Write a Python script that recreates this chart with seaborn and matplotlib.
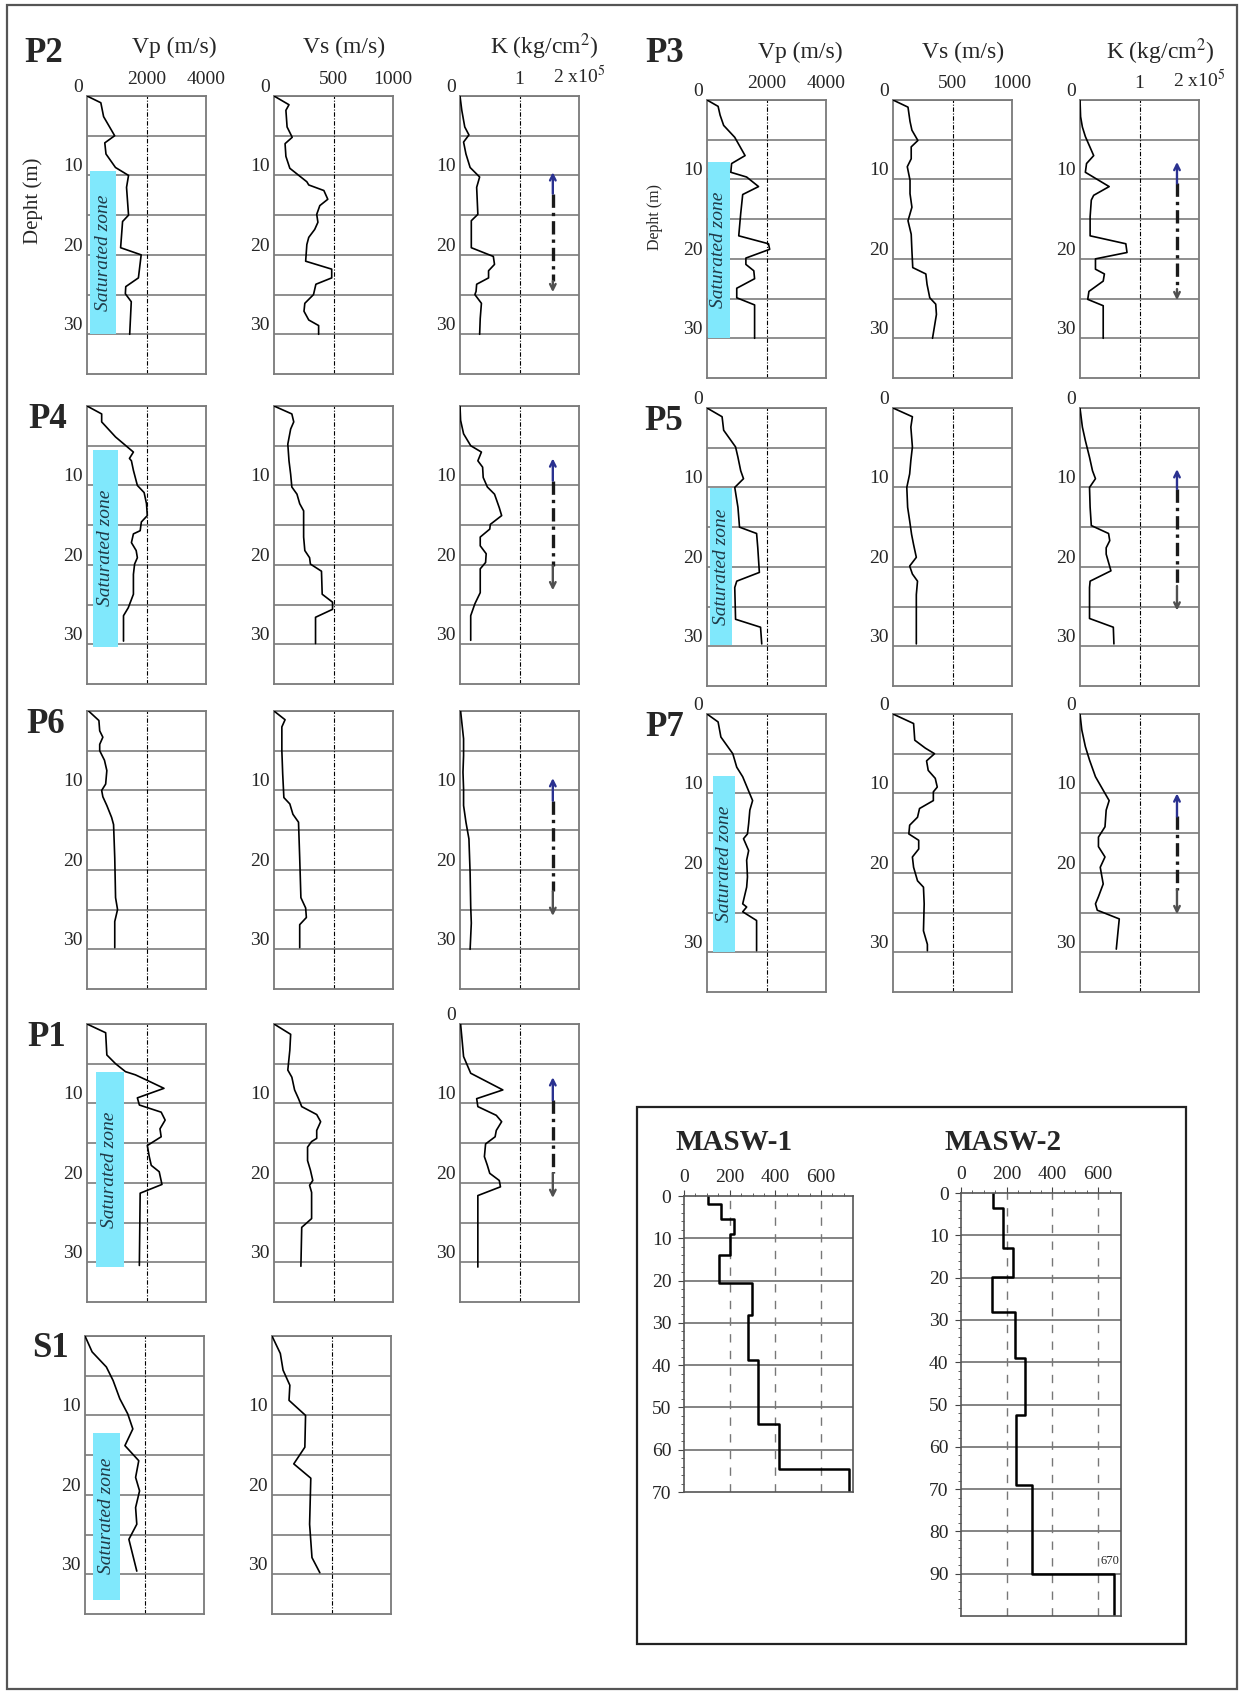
import numpy as np
import seaborn as sns
import matplotlib.pyplot as plt
from matplotlib.patches import Rectangle

W, H = 1239, 1692

# ---------------- profile data (value, depth in m) ----------------
p2_vp = [0, 465, 558, 930, 598, 638, 957, 1396, 1329, 1396, 1196, 1130, 1821, 1728, 1303, 1289, 1488, 1435]
p2_vp_d = [0, 0.85, 2.6, 5.0, 5.9, 7.3, 9.0, 10.0, 11.5, 15.0, 15.8, 19.1, 20.0, 22.9, 24.0, 24.9, 25.9, 30]
p2_vs = [0, 126, 100, 110, 153, 93, 100, 133, 276, 292, 419, 452, 385, 359, 369, 342, 292, 276, 266,
         485, 485, 352, 332, 259, 252, 292, 375, 375]
p2_vs_d = [0, 1.1, 1.8, 3.9, 5.2, 6.0, 7.6, 9.1, 10.8, 11.2, 11.9, 13.0, 13.8, 14.9, 15.9, 16.8, 17.8, 18.7, 20.8,
           21.8, 22.9, 23.7, 25.0, 26.1, 27.1, 28.2, 28.9, 30]
p2_k = [0, 0.03, 0.08, 0.15, 0.06, 0.10, 0.17, 0.33, 0.28, 0.30, 0.19, 0.19, 0.56, 0.58, 0.48, 0.48, 0.28,
        0.27, 0.25, 0.36, 0.34, 0.33]
p2_k_d = [0, 1.8, 3.9, 4.9, 5.8, 7.3, 9.0, 10.2, 11.5, 14.9, 15.7, 19.1, 20.2, 21.2, 22.0, 22.9, 23.7,
          24.6, 25.0, 26.1, 28.0, 30]

p3_vp = [0, 373, 440, 560, 933, 1280, 827, 800, 1333, 1733, 1200, 1133, 1067, 2067, 2107, 1307, 1307,
         1573, 1600, 1000, 1000, 1600, 1600]
p3_vp_d = [0, 0.8, 1.9, 3.2, 4.7, 7.0, 8.0, 9.1, 9.7, 10.9, 11.9, 14.3, 17.1, 18.1, 18.8, 19.9, 20.7,
           21.5, 22.5, 23.7, 24.9, 25.8, 30]
p3_vs = [0, 126, 143, 159, 209, 153, 153, 120, 143, 143, 159, 126, 153, 159, 166, 276, 286, 309, 359, 365, 332]
p3_vs_d = [0, 0.9, 2.7, 3.8, 5.1, 5.9, 7.4, 8.4, 10.1, 11.8, 13.5, 15.2, 16.9, 19.0, 21.1, 21.9, 23.2,
           24.9, 25.7, 27.0, 30]
p3_k = [0, 0.01, 0.04, 0.09, 0.23, 0.11, 0.09, 0.49, 0.23, 0.19, 0.17, 0.17, 0.77, 0.79, 0.26, 0.26,
        0.41, 0.39, 0.15, 0.13, 0.39, 0.39]
p3_k_d = [0, 2.1, 3.4, 4.6, 7.0, 8.0, 9.1, 10.9, 12.0, 12.6, 14.7, 17.1, 18.1, 19.2, 20.0, 21.3,
          21.9, 22.8, 24.1, 25.1, 25.9, 30]

p4_vp = [0, 493, 493, 960, 1560, 1427, 1493, 1560, 1693, 1920, 2000, 2027, 1827, 1787, 1560, 1493,
         1653, 1693, 1600, 1560, 1560, 1387, 1227, 1227]
p4_vp_d = [0, 1.0, 2.0, 3.9, 5.8, 6.6, 6.9, 8.1, 10.0, 10.9, 12.3, 13.8, 14.6, 15.7, 16.1, 17.2,
           18.2, 19.1, 19.9, 21.2, 23.7, 25.4, 26.4, 29.6]
p4_vs = [0, 150, 166, 140, 116, 126, 140, 150, 193, 216, 249, 249, 259, 299, 306, 399, 405, 492, 492, 349, 349]
p4_vs_d = [0, 1.0, 2.0, 2.9, 4.8, 6.9, 8.6, 10.2, 11.1, 12.3, 13.2, 16.5, 18.2, 19.1, 19.9, 20.8,
           23.7, 24.7, 25.6, 26.6, 29.9]
p4_k = [0, 0.01, 0.06, 0.18, 0.36, 0.30, 0.38, 0.39, 0.46, 0.58, 0.66, 0.70, 0.51, 0.50, 0.34, 0.34,
        0.44, 0.43, 0.34, 0.34, 0.25, 0.18, 0.18]
p4_k_d = [0, 1.8, 3.5, 5.0, 5.8, 6.9, 7.7, 9.0, 10.2, 11.1, 12.8, 13.8, 14.9, 15.5, 16.5, 17.6,
          18.6, 19.7, 20.5, 23.5, 24.9, 26.4, 29.5]

p5_vp = [0, 507, 560, 960, 1040, 1133, 1227, 933, 1040, 1093, 1667, 1707, 1760, 1000, 933, 960, 1800, 1840]
p5_vp_d = [0, 1.1, 2.8, 4.9, 6.2, 7.9, 8.9, 10.0, 12.5, 15.0, 15.8, 17.6, 20.7, 21.8, 22.6, 26.6, 27.6, 29.7]
p5_vs = [0, 163, 150, 163, 150, 140, 116, 123, 140, 156, 173, 196, 140, 163, 206, 196, 196]
p5_vs_d = [0, 1.1, 2.4, 4.9, 6.6, 8.3, 10.0, 12.5, 14.2, 15.9, 17.2, 18.8, 19.9, 20.9, 21.8, 23.5, 29.7]
p5_k = [0, 0.04, 0.09, 0.16, 0.21, 0.26, 0.16, 0.17, 0.19, 0.48, 0.50, 0.44, 0.44, 0.52, 0.17, 0.16,
        0.16, 0.56, 0.57]
p5_k_d = [0, 2.4, 4.1, 6.2, 7.9, 8.9, 10.0, 12.5, 14.8, 15.8, 16.7, 17.6, 18.4, 20.5, 21.8, 22.6,
          26.5, 27.6, 29.7]

p6_vp = [53, 400, 427, 533, 427, 427, 587, 667, 627, 493, 533, 667, 827, 893, 933, 960, 1027, 933, 933]
p6_vp_d = [0, 1.2, 2.5, 3.3, 4.2, 5.0, 6.2, 7.5, 9.2, 10.0, 10.8, 11.9, 13.4, 14.3, 18.5, 23.5, 25.0, 26.5, 29.8]
p6_vs = [0, 93, 66, 66, 73, 83, 133, 159, 206, 216, 226, 266, 272, 216, 216]
p6_vs_d = [0, 1.1, 2.0, 5.0, 7.9, 10.9, 11.7, 13.0, 14.0, 18.5, 23.5, 24.8, 26.0, 26.9, 29.8]
p6_k = [0.01, 0.03, 0.06, 0.06, 0.05, 0.06, 0.06, 0.10, 0.15, 0.17, 0.18, 0.19, 0.17]
p6_k_d = [0, 1.4, 3.5, 5.6, 7.7, 9.8, 11.9, 14.0, 16.1, 20.4, 24.6, 26.7, 30.0]

p7_vp = [0, 373, 467, 867, 1000, 1200, 1533, 1440, 1400, 1360, 1227, 1400, 1333, 1360, 1333, 1200,
         1333, 1200, 1667, 1667]
p7_vp_d = [0, 1.0, 2.9, 5.0, 6.7, 7.9, 10.9, 12.1, 13.8, 15.1, 15.7, 17.2, 18.4, 20.5, 21.8, 23.9,
           24.3, 24.9, 26.0, 29.8]
p7_vs = [0, 173, 183, 272, 349, 282, 296, 355, 372, 339, 339, 223, 206, 140, 133, 216, 216, 163, 173,
         206, 256, 262, 256, 289, 289]
p7_vs_d = [0, 1.2, 3.3, 4.3, 5.0, 5.9, 7.1, 8.1, 9.2, 9.8, 10.9, 11.9, 13.0, 14.0, 15.1, 15.9, 17.0,
           18.0, 19.3, 21.0, 21.8, 23.9, 27.3, 29.0, 29.8]
p7_k = [0, 0.03, 0.09, 0.16, 0.26, 0.39, 0.49, 0.44, 0.42, 0.31, 0.31, 0.42, 0.34, 0.39, 0.31, 0.26,
        0.29, 0.66, 0.64, 0.61]
p7_k_d = [0, 2.0, 4.1, 5.8, 7.9, 9.6, 10.9, 12.1, 14.2, 15.5, 16.7, 18.0, 19.3, 21.4, 23.0, 23.9,
          24.7, 25.8, 27.3, 29.6]

p1_vp = [0, 627, 667, 960, 1293, 1627, 2027, 2587, 1693, 1760, 2493, 2627, 2453, 2493, 2027, 2093,
         2160, 2427, 2520, 1787, 1760]
p1_vp_d = [0, 1.1, 3.9, 5.0, 6.0, 6.4, 7.1, 8.1, 9.3, 10.2, 11.1, 12.1, 13.2, 14.2, 15.3, 16.7,
           17.8, 18.6, 20.2, 21.3, 30.4]
p1_vs = [0, 140, 133, 116, 150, 173, 206, 233, 359, 392, 359, 359, 316, 282, 282, 306, 326, 299, 316,
         316, 233, 226]
p1_vs_d = [0, 1.3, 3.3, 5.8, 6.7, 8.3, 9.4, 10.4, 11.4, 12.3, 13.4, 14.4, 14.8, 15.5, 17.2, 18.4,
           19.7, 20.3, 21.2, 24.5, 25.6, 30.5]
p1_k = [0.01, 0.03, 0.06, 0.18, 0.72, 0.28, 0.30, 0.61, 0.70, 0.61, 0.59, 0.43, 0.41, 0.46, 0.50,
        0.66, 0.68, 0.30, 0.30]
p1_k_d = [0, 1.6, 4.1, 6.2, 8.3, 9.4, 10.4, 11.5, 12.3, 13.4, 14.2, 15.1, 16.7, 17.8, 18.8, 19.7,
          20.5, 21.6, 30.6]

s1_vp = [0, 239, 718, 944, 1170, 1436, 1608, 1342, 1807, 1701, 1834, 1701, 1741, 1475, 1741]
s1_vp_d = [0, 2.0, 3.9, 5.6, 7.9, 9.8, 11.7, 13.8, 15.7, 17.8, 19.5, 21.6, 23.7, 25.6, 29.6]
s1_vs = [0, 70, 93, 150, 143, 282, 276, 183, 326, 316, 336, 402]
s1_vs_d = [0, 2.2, 4.3, 6.2, 8.1, 10.0, 14.0, 16.1, 17.9, 23.7, 27.9, 29.8]

# saturated zone: Vp from, Vp to, depth from, depth to
p2_sat = [106, 970, 9.4, 30]
p3_sat = [27, 760, 7.8, 30]
p4_sat = [187, 1053, 5.5, 30.3]
p5_sat = [107, 840, 10.1, 29.9]
p7_sat = [213, 933, 7.8, 30]
p1_sat = [293, 1227, 6.1, 30.6]
s1_sat = [279, 1169, 12.2, 33.2]

# K-panel arrow: x, top, end of blue part, start of grey part, bottom
p2_arrow = [1.56, 9.6, 12.3, 23.3, 24.7]
p3_arrow = [1.63, 7.8, 10.5, 23.8, 25.2]
p4_arrow = [1.56, 6.6, 9.4, 20.1, 23.2]
p5_arrow = [1.63, 7.7, 10.2, 22.4, 25.5]
p6_arrow = [1.56, 8.45, 11.3, 22.7, 25.8]
p7_arrow = [1.63, 10.0, 12.9, 22.1, 25.2]
p1_arrow = [1.56, 6.7, 9.6, 18.8, 21.9]

# MASW step profiles (layer tops, Vs)
masw1_tops = [0, 2.0, 5.5, 9.1, 13.9, 20.5, 28.2, 38.9, 53.9, 64.5]
masw1_vs = [105, 162, 218, 200, 154, 299, 281, 325, 418, 721]
masw1_bottom = 70
masw2_tops = [0, 3.5, 13.0, 19.8, 28.2, 38.9, 52.6, 69.0, 90.0]
masw2_vs = [140, 185, 228, 136, 237, 278, 241, 311, 670]
masw2_bottom = 100

sns.set_theme(style='white')
plt.rcParams['font.family'] = ['Liberation Serif', 'DejaVu Serif']
plt.rcParams['mathtext.fontset'] = 'stix'

fig = plt.figure(figsize=(W / 100, H / 100), dpi=100)
fig.patch.set_facecolor('white')


def add_ax(x0, top, w, h):
    return fig.add_axes([x0 / W, 1 - (top + h) / H, w / W, h / H])


def ftext(x, y, s, **kw):
    fig.text(x / W, 1 - y / H, s, ha='center', va='center', **kw)


def panel(ax, xmax, vals, deps, zero, header_labels=None):
    mid = xmax / 2
    ax.set_xlim(0, xmax)
    ax.set_ylim(35, 0)
    ax.set_axisbelow(True)
    ax.set_yticks([0, 10, 20, 30], ['0' if zero else '', '10', '20', '30'])
    ax.set_yticks([5, 15, 25], minor=True)
    ax.grid(True, which='both', axis='y', color='#8e8e8e', lw=1.4)
    for lbl in ax.get_yticklabels():
        lbl.set_va('bottom')
    ax.tick_params(which='both', length=0, labelsize=14, pad=3)
    if header_labels:
        ax.xaxis.tick_top()
        ax.set_xticks([mid, xmax], header_labels)
        ax.tick_params(axis='x', pad=6)
    else:
        ax.set_xticks([])
    for sp in ax.spines.values():
        sp.set_color('#7a7a7a')
        sp.set_linewidth(1.3)
    ax.axvline(mid, color='black', lw=0.8, ls=(0, (4, 1.5, 1, 1.5)), zorder=1)
    sns.lineplot(x=vals, y=deps, sort=False, estimator=None, color='black', lw=1.2, ax=ax, zorder=3)
    ax.set_xlabel('')
    ax.set_ylabel('')


def sat_zone(ax, sat):
    x0, x1, d0, d1 = sat
    ax.add_patch(Rectangle((x0, d0), x1 - x0, d1 - d0, color='#80e8fc', zorder=1.5, lw=0))
    ax.text((x0 + x1) / 2, (d0 + d1) / 2, 'Saturated zone', rotation=90, style='italic',
            fontsize=14, color='#1f3a48', ha='center', va='center', zorder=4)


def k_arrow(ax, arr):
    x, top, blue_end, gray_start, bottom = arr
    ax.annotate('', xy=(x, top), xytext=(x, blue_end),
                arrowprops=dict(arrowstyle='->', color='#2a3190', lw=1.7, shrinkA=0, shrinkB=0,
                                mutation_scale=10))
    ax.plot([x, x], [blue_end, gray_start], color='#1a1a1a', lw=2.4, ls=(0, (4, 1.5, 1, 1.5)))
    ax.annotate('', xy=(x, bottom), xytext=(x, gray_start),
                arrowprops=dict(arrowstyle='->', color='#505050', lw=1.7, shrinkA=0, shrinkB=0,
                                mutation_scale=10))


left_cols = [87, 274, 460]
right_cols = [707, 893, 1080]
PW, PH = 119, 278

profiles = [
    dict(name='P2', lab=(44, 53), top=96, cols=left_cols, vp=(p2_vp, p2_vp_d), vs=(p2_vs, p2_vs_d),
         k=(p2_k, p2_k_d), sat=p2_sat, arrow=p2_arrow, zero=(1, 1, 1), header=True),
    dict(name='P3', lab=(665, 53), top=100, cols=right_cols, vp=(p3_vp, p3_vp_d), vs=(p3_vs, p3_vs_d),
         k=(p3_k, p3_k_d), sat=p3_sat, arrow=p3_arrow, zero=(1, 1, 1), header=True),
    dict(name='P4', lab=(48, 419), top=406, cols=left_cols, vp=(p4_vp, p4_vp_d), vs=(p4_vs, p4_vs_d),
         k=(p4_k, p4_k_d), sat=p4_sat, arrow=p4_arrow, zero=(0, 0, 0), header=False),
    dict(name='P5', lab=(664, 421), top=408, cols=right_cols, vp=(p5_vp, p5_vp_d), vs=(p5_vs, p5_vs_d),
         k=(p5_k, p5_k_d), sat=p5_sat, arrow=p5_arrow, zero=(1, 1, 1), header=False),
    dict(name='P6', lab=(46, 724), top=711, cols=left_cols, vp=(p6_vp, p6_vp_d), vs=(p6_vs, p6_vs_d),
         k=(p6_k, p6_k_d), sat=None, arrow=p6_arrow, zero=(0, 0, 0), header=False),
    dict(name='P7', lab=(665, 727), top=714, cols=right_cols, vp=(p7_vp, p7_vp_d), vs=(p7_vs, p7_vs_d),
         k=(p7_k, p7_k_d), sat=p7_sat, arrow=p7_arrow, zero=(1, 1, 1), header=False),
    dict(name='P1', lab=(47, 1037), top=1024, cols=left_cols, vp=(p1_vp, p1_vp_d), vs=(p1_vs, p1_vs_d),
         k=(p1_k, p1_k_d), sat=p1_sat, arrow=p1_arrow, zero=(0, 0, 1), header=False),
]

for p in profiles:
    c = p['cols']
    hdr = p['header']
    ax_vp = add_ax(c[0], p['top'], PW, PH)
    panel(ax_vp, 4000, *p['vp'], p['zero'][0], ['2000', '4000'] if hdr else None)
    if p['sat']:
        sat_zone(ax_vp, p['sat'])
    ax_vs = add_ax(c[1], p['top'], PW, PH)
    panel(ax_vs, 1000, *p['vs'], p['zero'][1], ['500', '1000'] if hdr else None)
    ax_k = add_ax(c[2], p['top'], PW, PH)
    panel(ax_k, 2, *p['k'], p['zero'][2], ['1', r'2 x10$^{5}$'] if hdr else None)
    k_arrow(ax_k, p['arrow'])
    ftext(*p['lab'], p['name'], fontsize=25, fontweight='bold')

# S1 (no K panel)
ax = add_ax(85, 1336, PW, PH)
panel(ax, 4000, s1_vp, s1_vp_d, False)
sat_zone(ax, s1_sat)
ax = add_ax(272, 1336, PW, PH)
panel(ax, 1000, s1_vs, s1_vs_d, False)
ftext(50, 1348, 'S1', fontsize=25, fontweight='bold')

# column headers
for xs, y in [((174, 344, 544), 47), ((800, 963, 1160), 52)]:
    ftext(xs[0], y, 'Vp (m/s)', fontsize=17)
    ftext(xs[1], y, 'Vs (m/s)', fontsize=17)
    ftext(xs[2], y, r'K (kg/cm$^{2}$)', fontsize=17)
ftext(33, 201, 'Depht (m)', fontsize=15, rotation=90)
ftext(655, 217, 'Depht (m)', fontsize=11.5, rotation=90)


# ---------------- MASW inset ----------------
def masw_panel(x0, top, w, h, tops, vs, bottom, xmax, ylabels):
    ax = add_ax(x0, top, w, h)
    bounds = list(tops) + [bottom]
    depth = np.repeat(bounds, 2)[1:-1]
    vel = np.repeat(vs, 2)
    ax.set_xlim(0, xmax)
    ax.set_ylim(bottom, 0)
    for d in range(10, bottom, 10):
        ax.axhline(d, color='#6e6e6e', lw=1.2, zorder=1)
    for v in (200, 400, 600):
        ax.axvline(v, color='#777777', lw=1.0, ls=(0, (6, 6)), zorder=1)
    sns.lineplot(x=vel, y=depth, sort=False, estimator=None, color='black', lw=1.8, ax=ax)
    ax.set_xlabel('')
    ax.set_ylabel('')
    ax.xaxis.tick_top()
    ax.set_xticks([0, 200, 400, 600])
    ax.set_xticks(np.arange(0, xmax, 50), minor=True)
    ax.set_yticks(ylabels)
    ax.set_yticks(np.arange(0, bottom, 2), minor=True)
    ax.tick_params(axis='x', which='major', top=True, length=4, width=0.8, color='#444444',
                   labelsize=14, pad=3)
    ax.tick_params(axis='x', which='minor', top=True, length=2, width=0.6, color='#444444')
    ax.tick_params(axis='y', which='major', left=True, length=4, width=0.8, color='#444444',
                   labelsize=14, pad=5)
    ax.tick_params(axis='y', which='minor', left=True, length=2, width=0.6, color='#444444')
    for sp in ax.spines.values():
        sp.set_color('#555555')
        sp.set_linewidth(1.2)
    return ax


masw_panel(684, 1196, 169, 296, masw1_tops, masw1_vs, masw1_bottom, 740, list(range(0, 71, 10)))
masw_panel(961, 1193, 160, 423, masw2_tops, masw2_vs, masw2_bottom, 700, list(range(0, 91, 10)))
ftext(734, 1143, 'MASW-1', fontsize=21, fontweight='bold')
ftext(1003, 1142, 'MASW-2', fontsize=21, fontweight='bold')
ftext(1110, 1561, '670', fontsize=9)

# frames
fig.add_artist(Rectangle((637 / W, 1 - 1644 / H), (1186 - 637) / W, (1644 - 1107) / H,
                         transform=fig.transFigure, fill=False, ec='#222222', lw=1.6))
fig.add_artist(Rectangle((7 / W, 1 - 1689 / H), (1237 - 7) / W, (1689 - 5) / H,
                         transform=fig.transFigure, fill=False, ec='#555555', lw=1.6))

fig.savefig('out.png', dpi=100, facecolor='white')
